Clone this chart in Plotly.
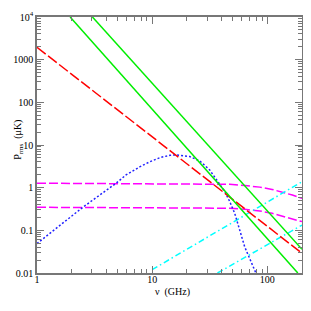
import plotly.graph_objects as go

# ---- data ----
red_nu = [1.0, 200.0]
red_p = [1950.0, 0.029]

green1_nu = [1.94, 184.0]
green1_p = [1.0e4, 0.01]
green2_nu = [3.03, 200.0]
green2_p = [1.0e4, 0.036]

cyan1_nu = [10.0, 200.0]
cyan1_p = [0.012, 1.38]
cyan2_nu = [36.9, 200.0]
cyan2_p = [0.01, 0.133]

mag_nu = [1.0, 30.0, 47.0, 64.0, 86.0, 110.0, 136.0, 165.0, 200.0]
mag1_p = [1.27, 1.25, 1.20, 1.12, 1.03, 0.91, 0.78, 0.67, 0.56]
mag2_p = [0.347, 0.342, 0.33, 0.31, 0.285, 0.25, 0.215, 0.185, 0.16]

blue_nu = [1.0, 2.5, 4.86, 5.93, 7.84, 9.59, 11.7, 14.3, 16.3, 21.2, 25.9,
           31.6, 38.6, 42.7, 47.2, 52.1, 63.6, 77.6, 79.5]
blue_p = [0.049, 0.347, 1.27, 1.99, 3.1, 4.07, 5.06, 5.75, 5.85, 5.35, 4.24,
          2.6, 1.2, 0.81, 0.47, 0.25, 0.041, 0.0117, 0.01]

x_ticks = [1, 10, 100]
x_ticktext = ["1", "10", "100"]
y_ticks = [0.01, 0.1, 1, 10, 100, 1000, 10000]
y_ticktext = ["0.01", "0.1", "1", "10", "100", "1000", "10<sup>4</sup>"]

FONT = "Liberation Serif"

fig = go.Figure()


def add(nu, p, color, dash, width=1.5):
    fig.add_trace(go.Scatter(x=nu, y=p, mode="lines",
                             line=dict(color=color, dash=dash, width=width),
                             showlegend=False, hoverinfo="skip"))


add(mag_nu, mag1_p, "#ff00ff", "9px,3px")
add(mag_nu, mag2_p, "#ff00ff", "9px,3px")
add(cyan1_nu, cyan1_p, "#00ffff", "6px,3px,1.5px,3px")
add(cyan2_nu, cyan2_p, "#00ffff", "6px,3px,1.5px,3px")
add(blue_nu, blue_p, "#2020ff", "2px,2px")
add(red_nu, red_p, "#ff0000", "11px,3px")
add(green1_nu, green1_p, "#00ee00", "solid")
add(green2_nu, green2_p, "#00ee00", "solid")

minor_x = [v * d for d in (1, 10, 100) for v in range(2, 10) if v * d <= 200]
minor_y = [v * 10.0 ** e for e in range(-2, 4) for v in range(2, 10)]

axis_common = dict(
    showgrid=False, zeroline=False, showline=True, linecolor="#777777",
    linewidth=1.5, mirror="ticks", ticks="inside", ticklen=7, tickwidth=1,
    tickcolor="#777777",
    tickfont=dict(family=FONT, size=10, color="black"),
)

# page body has an 8px default margin; figure sized so it ends at the window edge
fig.update_layout(
    width=303, height=303,
    margin=dict(l=29, r=9, t=9, b=38, autoexpand=False),
    paper_bgcolor="white", plot_bgcolor="white",
    xaxis=dict(type="log", range=[0, 2.30103], tickmode="array",
               tickvals=x_ticks, ticktext=x_ticktext, ticklabelstandoff=-4,
               minor=dict(tickmode="array", tickvals=minor_x, ticks="inside",
                          ticklen=4, tickcolor="#777777", showgrid=False),
               **axis_common),
    yaxis=dict(type="log", range=[-2, 4], tickmode="array",
               tickvals=y_ticks, ticktext=y_ticktext,
               minor=dict(tickmode="array", tickvals=minor_y, ticks="inside",
                          ticklen=4, tickcolor="#777777", showgrid=False),
               **axis_common),
    annotations=[
        dict(text="P<sub>rms</sub>  (μK)", xref="paper", yref="paper",
             x=-0.068, y=0.52, xanchor="center", yanchor="middle",
             textangle=-90, showarrow=False,
             font=dict(family=FONT, size=10, color="black")),
        dict(text="ν  (GHz)", xref="paper", yref="paper",
             x=0.51, y=-0.076, xanchor="center", yanchor="middle",
             showarrow=False,
             font=dict(family=FONT, size=10, color="black")),
    ],
)

fig.write_html("out.html")
